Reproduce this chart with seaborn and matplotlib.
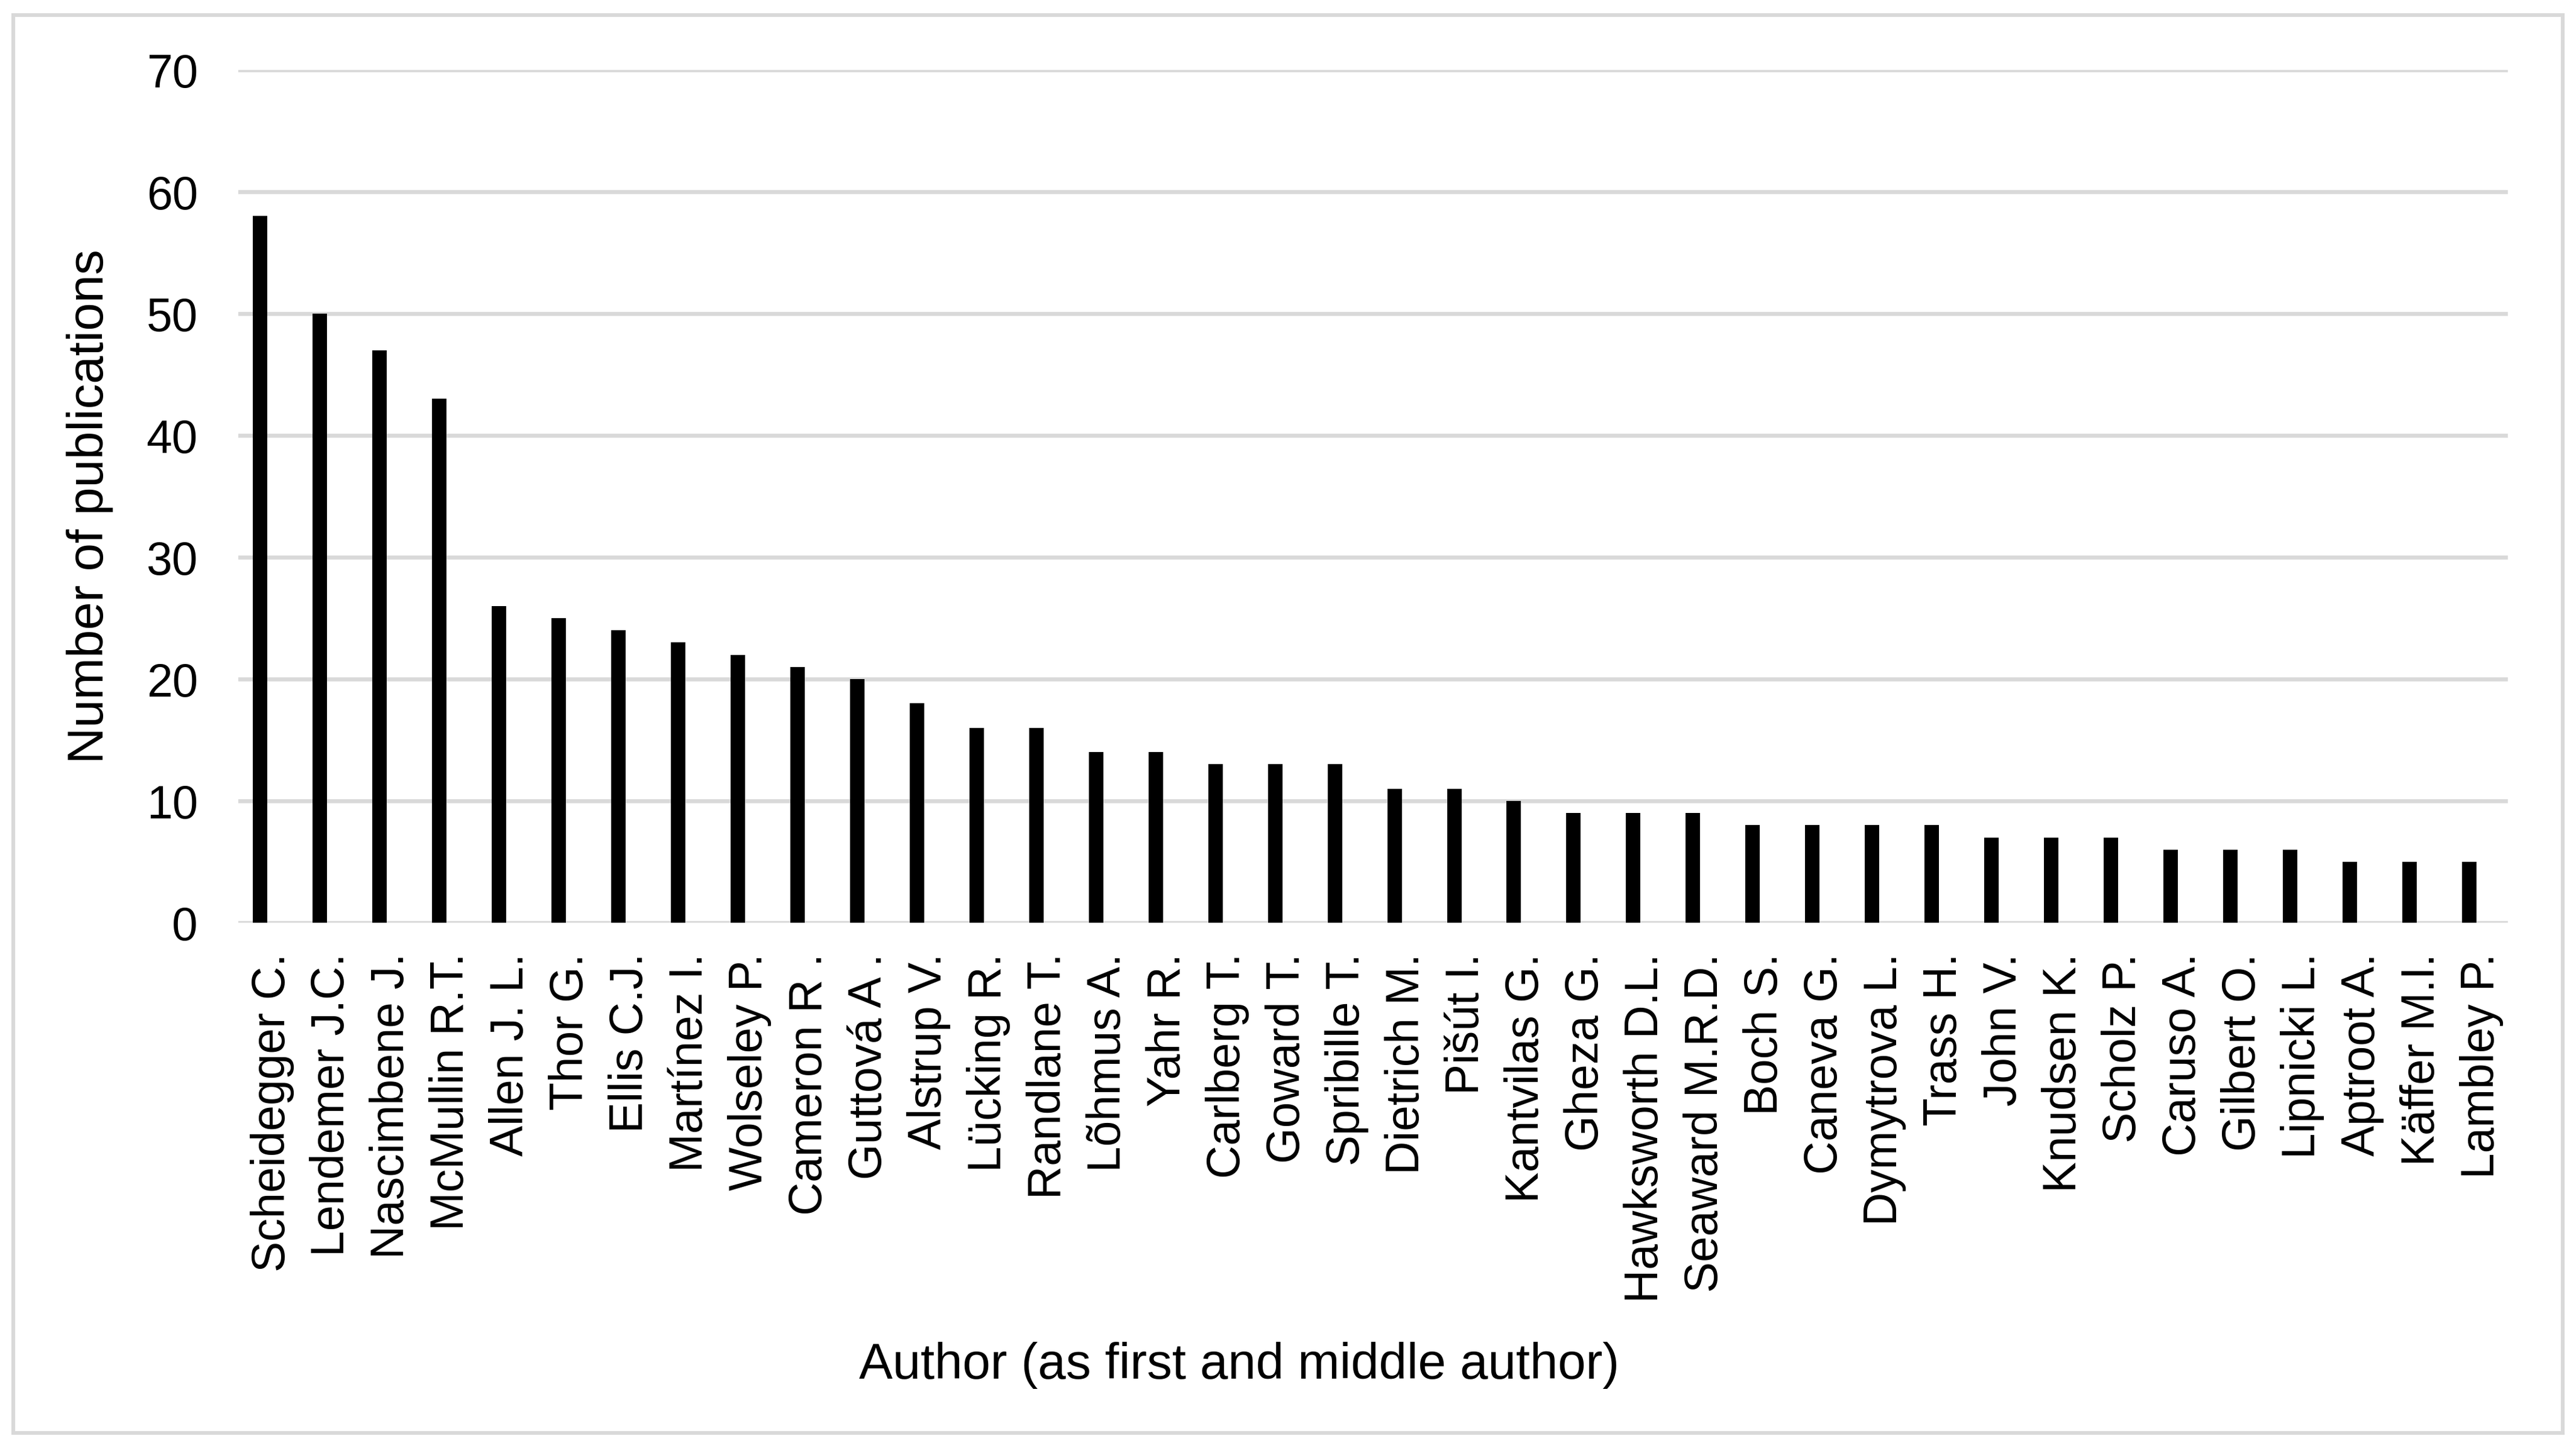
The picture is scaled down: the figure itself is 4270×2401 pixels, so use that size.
import numpy as np
import pandas as pd
import matplotlib
matplotlib.use("Agg")
import matplotlib.pyplot as plt
from matplotlib.patches import Rectangle
import seaborn as sns

authors = ["Scheidegger C.", "Lendemer J.C.", "Nascimbene J.", "McMullin R.T.",
           "Allen J. L.", "Thor G.", "Ellis C.J.", "Martínez I.", "Wolseley P.",
           "Cameron R .", "Guttová A .", "Alstrup V.", "Lücking R.", "Randlane T.",
           "Lõhmus A.", "Yahr R.", "Carlberg T.", "Goward T.", "Spribille T.",
           "Dietrich M.", "Pišút I.", "Kantvilas G.", "Gheza G.", "Hawksworth D.L.",
           "Seaward M.R.D.", "Boch S.", "Caneva G.", "Dymytrova L.", "Trass H.",
           "John V.", "Knudsen K.", "Scholz P.", "Caruso A.", "Gilbert O.",
           "Lipnicki L.", "Aptroot A.", "Käffer M.I.", "Lambley P."]
publications = [58, 50, 47, 43, 26, 25, 24, 23, 22, 21, 20, 18, 16, 16, 14, 14,
                13, 13, 13, 11, 11, 10, 9, 9, 9, 8, 8, 8, 8, 7, 7, 7, 6, 6, 6, 5, 5, 5]
y_ticks = [0, 10, 20, 30, 40, 50, 60, 70]
x_title = "Author (as first and middle author)"
y_title = "Number of publications"

sns.set_theme(style="white")
plt.rcParams["font.family"] = ["Liberation Sans", "DejaVu Sans"]

W, H, DPI = 4270, 2401, 300
fig = plt.figure(figsize=(W / DPI, H / DPI), dpi=DPI)
fig.patch.set_facecolor("white")

ax_left, ax_right, ax_top, ax_bottom = 395, 4157, 116, 1530
ax = fig.add_axes([ax_left / W, 1 - ax_bottom / H,
                   (ax_right - ax_left) / W, (ax_bottom - ax_top) / H])

df = pd.DataFrame({"author": authors, "n": publications})
sns.barplot(data=df, x="author", y="n", order=authors, color="black",
            saturation=1, width=0.2424, linewidth=0, ax=ax)

n = len(authors)
ax.set_xlim(-0.364, n - 1 + 0.646)
ax.set_ylim(0, 70)
ax.set_yticks(y_ticks)
ax.set_yticklabels([str(t) for t in y_ticks])
ax.set_xticks(np.arange(n) + 0.409)
ax.set_xticklabels(authors, rotation=90, rotation_mode="anchor",
                   ha="right", va="baseline")

ax.grid(axis="y", color="#d9d9d9", linewidth=1.6)
ax.grid(axis="x", visible=False)
ax.set_axisbelow(True)
for s in ax.spines.values():
    s.set_visible(False)
ax.tick_params(axis="x", length=0, pad=12.2, labelsize=18.4, labelcolor="black")
ax.tick_params(axis="y", length=0, pad=16.1, labelsize=18.4, labelcolor="black")
ax.set_xlabel("")
ax.set_ylabel("")

fig.text(2054 / W, 1 - 2286 / H, x_title, ha="center", va="baseline",
         fontsize=20, color="black")
fig.text(171 / W, 1 - 840 / H, y_title, rotation=90, rotation_mode="anchor",
         ha="center", va="baseline", fontsize=20, color="black")

fig.add_artist(Rectangle((22 / W, 1 - 2376 / H), (4248 - 22) / W, (2376 - 25) / H,
                         transform=fig.transFigure, fill=False,
                         edgecolor="#d9d9d9", linewidth=1.5))

fig.savefig("out.png", dpi=DPI, facecolor="white")
